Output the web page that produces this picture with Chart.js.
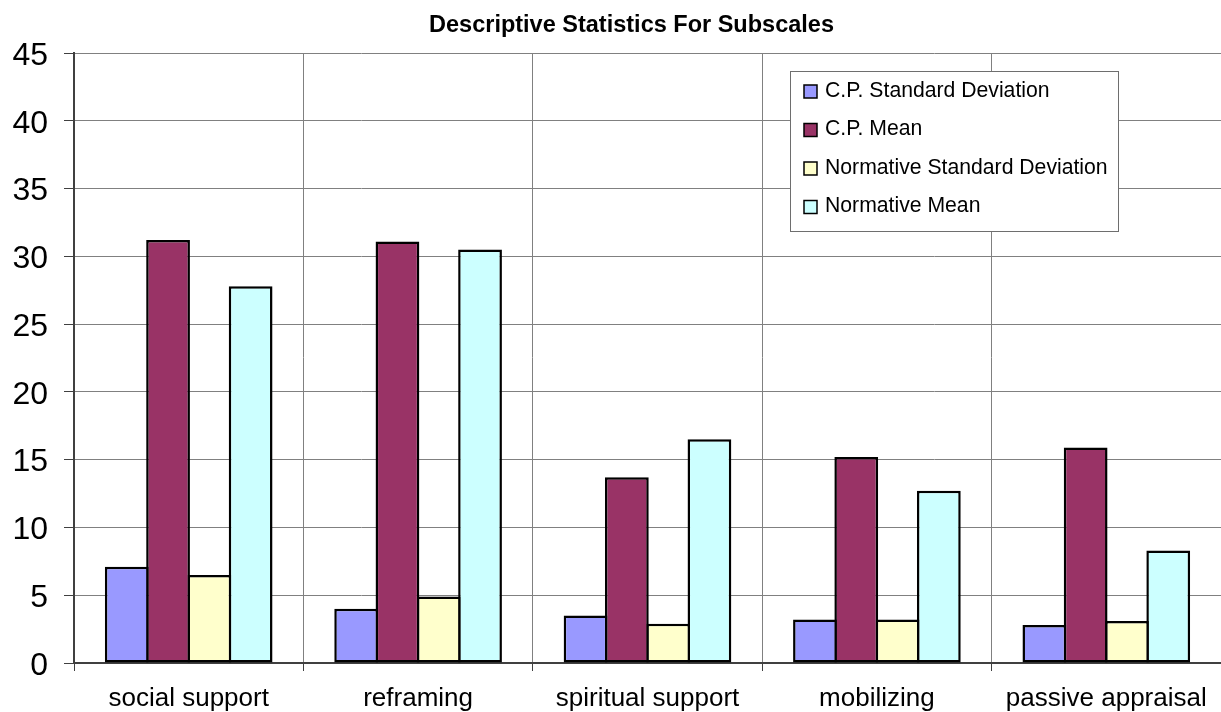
<!DOCTYPE html>
<html>
<head>
<meta charset="utf-8">
<script src="https://cdn.jsdelivr.net/npm/chart.js@4/dist/chart.umd.min.js"></script>
<style>
  html, body { margin: 0; padding: 0; background: #ffffff; }
  #wrap { width: 1221px; height: 712px; position: relative; }
</style>
</head>
<body>
<div id="wrap"><canvas id="chart" width="1221" height="712"></canvas></div>
<script>
// Subscale categories and the four series of descriptive statistics
const categories = ['social support', 'reframing', 'spiritual support', 'mobilizing', 'passive appraisal'];
const cpStdDev   = [7.1, 4.0, 3.5, 3.2, 2.8];
const cpMean     = [31.2, 31.1, 13.7, 15.2, 15.9];
const normStdDev = [6.5, 4.9, 2.9, 3.2, 3.1];
const normMean   = [27.8, 30.5, 16.5, 12.7, 8.3];
const seriesNames = ['C.P. Standard Deviation', 'C.P. Mean', 'Normative Standard Deviation', 'Normative Mean'];
const seriesColors = ['#9999FF', '#993366', '#FFFFCC', '#CCFFFF'];
const yTicks = [0, 5, 10, 15, 20, 25, 30, 35, 40, 45];
const chartTitle = 'Descriptive Statistics For Subscales';

const FONT = '"Liberation Sans", Arial, sans-serif';

// Bars in a group touch and share their outline: each bar is widened a little
// so that its neighbour's border lies on top of its own.
const seriesValues = [cpStdDev, cpMean, normStdDev, normMean];
const datasets = seriesValues.map((vals, i) => ({
  label: seriesNames[i],
  data: vals,
  backgroundColor: seriesColors[i],
  borderColor: '#000000',
  borderWidth: 2.5,
  borderSkipped: false,
  categoryPercentage: 0.72,
  barPercentage: 1.06
}));

// Title drawn above the plot
const titlePlugin = {
  id: 'titleText',
  afterDraw(chart) {
    const ctx = chart.ctx;
    ctx.save();
    ctx.font = 'bold 23.5px ' + FONT;
    ctx.fillStyle = '#000000';
    ctx.textAlign = 'center';
    ctx.textBaseline = 'alphabetic';
    ctx.fillText(chartTitle, 631.5, 31.5);
    ctx.restore();
  }
};

// Boxed legend floating inside the plot area, top right
const boxLegend = {
  id: 'boxLegend',
  afterDraw(chart) {
    const ctx = chart.ctx;
    const left = 790.5, top = 71.5, w = 328, h = 160;
    ctx.save();
    ctx.fillStyle = '#ffffff';
    ctx.fillRect(left, top, w, h);
    ctx.strokeStyle = '#6e6e6e';
    ctx.lineWidth = 1;
    ctx.strokeRect(left, top, w, h);
    ctx.font = '21.2px ' + FONT;
    ctx.textAlign = 'left';
    ctx.textBaseline = 'alphabetic';
    chart.data.datasets.forEach((ds, i) => {
      const cy = 91.5 + i * 38.5;
      ctx.fillStyle = ds.backgroundColor;
      ctx.fillRect(804, cy - 6.5, 13, 13);
      ctx.strokeStyle = '#000000';
      ctx.lineWidth = 1.5;
      ctx.strokeRect(804, cy - 6.5, 13, 13);
      ctx.fillStyle = '#000000';
      ctx.fillText(ds.label, 825, cy + 5);
    });
    ctx.restore();
  }
};

new Chart(document.getElementById('chart'), {
  type: 'bar',
  data: { labels: categories, datasets },
  options: {
    responsive: false,
    animation: false,
    layout: { padding: { top: 53, right: 0, left: 0, bottom: 0 } },
    plugins: {
      legend: { display: false },
      title: { display: false },
      tooltip: { enabled: false }
    },
    scales: {
      x: {
        offset: true,
        grid: {
          offset: true,
          color: '#808080',
          lineWidth: 1,
          tickColor: '#404040',
          tickLength: 8,
          drawTicks: true
        },
        border: { color: '#404040', width: 2 },
        ticks: {
          color: '#000000',
          font: { family: FONT, size: 26 },
          padding: 12,
          maxRotation: 0,
          autoSkip: false
        },
        afterFit(scale) { scale.height = 49; }
      },
      y: {
        min: 0,
        max: 45,
        afterBuildTicks(scale) { scale.ticks = yTicks.map(v => ({ value: v })); },
        grid: {
          color: '#808080',
          lineWidth: 1,
          tickColor: '#404040',
          tickLength: 10
        },
        border: { color: '#404040', width: 2 },
        ticks: {
          color: '#000000',
          font: { family: FONT, size: 32 },
          padding: 16,
          labelOffset: 3
        },
        afterFit(scale) { scale.width = 74; }
      }
    }
  },
  plugins: [titlePlugin, boxLegend]
});
</script>
</body>
</html>
